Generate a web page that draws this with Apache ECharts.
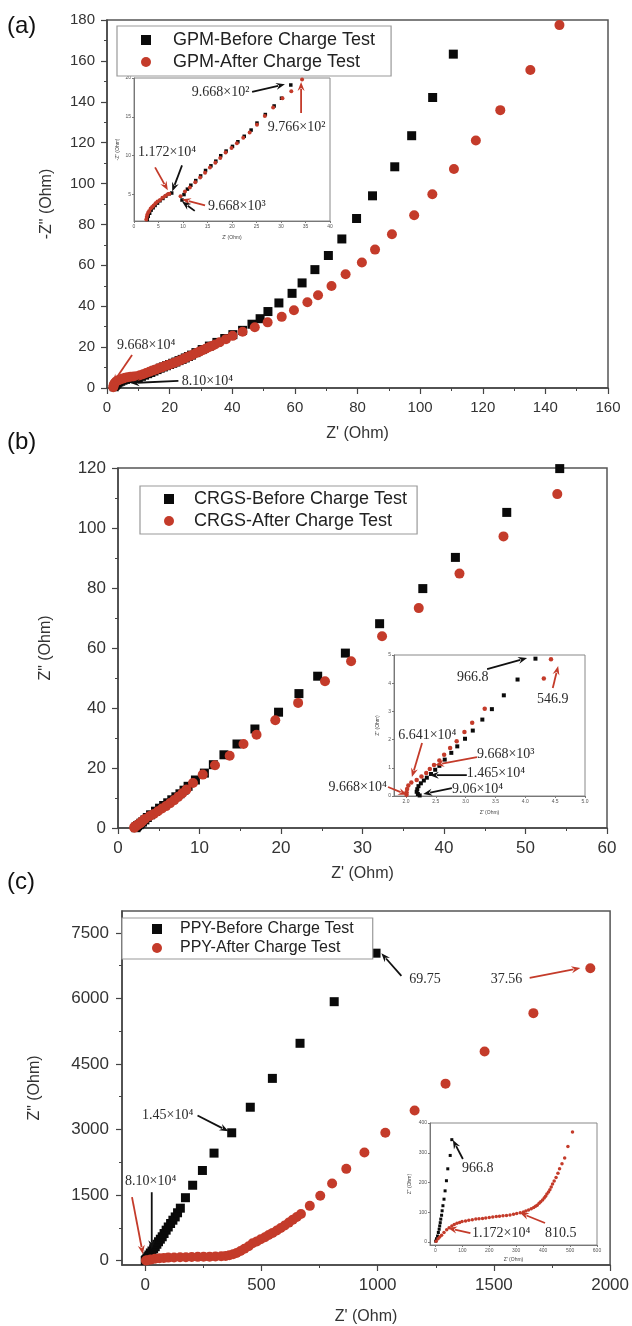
<!DOCTYPE html>
<html>
<head>
<meta charset="utf-8">
<script src="https://cdn.jsdelivr.net/npm/echarts@6/dist/echarts.min.js"></script>
<style>
  html, body { margin: 0; padding: 0; background: #fff; }
  #chart { width: 632px; height: 1326px; }
</style>
</head>
<body>
<div id="chart"></div>
<script>
// ---- (a) GPM ----
var gpmBefore = [[2.3,0.6],[2.6,1.2],[2.9,1.8],[3.3,2.4],[3.8,2.9],[4.4,3.3],[5.1,3.8],[5.9,4.2],[6.8,4.6],[7.7,4.9],[9.0,4.6],[10.0,5.1],[11.0,5.7],[12.0,6.3],[13.0,7.0],[14.0,7.6],[15.0,8.3],[16.0,9.0],[17.0,9.7],[18.0,10.3],[19.0,10.9],[20.0,11.5],[21.0,12.1],[22.0,12.7],[23.0,13.4],[24.0,14.0],[25.0,14.7],[26.0,15.4],[27.0,16.1],[28.4,17.3],[30.4,18.8],[32.7,20.5],[35.1,22.3],[37.6,24.2],[40.2,26.1],[43.3,28.2],[46.3,31.2],[48.9,33.9],[51.4,37.4],[54.9,41.6],[59.1,46.3],[62.3,51.4],[66.4,57.9],[70.7,64.8],[75.0,72.9],[79.7,82.9],[84.8,94.0],[91.9,108.2],[97.3,123.4],[104.0,142.1],[110.6,163.3]];
var gpmAfter = [[2.0,0.4],[2.1,1.2],[2.3,2.0],[2.6,2.7],[3.0,3.3],[3.6,3.8],[4.3,4.2],[5.0,4.6],[5.8,5.0],[6.6,5.3],[7.5,5.5],[8.5,5.6],[9.5,5.8],[10.5,6.2],[11.5,6.7],[12.5,7.3],[13.5,7.9],[14.5,8.5],[15.5,9.0],[16.5,9.6],[17.5,10.1],[18.5,10.7],[19.5,11.2],[20.5,11.8],[21.5,12.4],[22.5,13.0],[23.5,13.6],[24.5,14.3],[25.5,15.0],[26.5,15.7],[27.5,16.4],[28.5,17.1],[29.5,17.8],[30.5,18.5],[31.5,19.2],[32.5,19.9],[33.5,20.6],[34.5,21.3],[36.0,22.4],[38.0,23.9],[40.1,25.5],[43.3,27.5],[47.2,29.7],[51.3,32.1],[55.8,34.8],[59.7,38.0],[64.0,41.9],[67.4,45.4],[71.7,49.9],[76.2,55.6],[81.4,61.4],[85.6,67.7],[91.0,75.2],[98.1,84.5],[103.9,94.8],[110.8,107.1],[117.8,121.1],[125.6,135.9],[135.2,155.5],[144.5,177.5]];
var gpmBeforeZoom = [[2.7,1.8],[2.9,2.2],[3.2,2.6],[3.5,3.0],[3.9,3.3],[4.3,3.6],[4.8,3.9],[5.3,4.2],[5.9,4.5],[6.5,4.8],[7.2,5.1],[7.7,5.2],[9.8,4.3],[10.2,5.0],[10.9,5.7],[11.6,6.2],[12.6,6.8],[13.6,7.4],[14.6,8.1],[15.7,8.7],[16.7,9.3],[17.7,10.0],[18.8,10.6],[20.1,11.2],[21.2,11.8],[22.5,12.5],[23.9,13.3],[25.1,14.2],[26.8,15.3],[28.6,16.4],[30.1,17.4],[32.0,19.1]];
var gpmAfterZoom = [[2.5,1.8],[2.6,2.1],[2.7,2.4],[2.9,2.7],[3.1,2.9],[3.4,3.2],[3.7,3.4],[4.0,3.6],[4.4,3.9],[4.8,4.1],[5.3,4.3],[5.8,4.6],[6.3,4.8],[6.8,5.0],[7.2,5.1],[9.5,4.8],[10.4,5.4],[11.4,5.9],[12.5,6.6],[13.5,7.2],[14.5,7.8],[15.5,8.5],[16.6,9.1],[17.6,9.7],[18.7,10.4],[19.9,11.0],[21.0,11.6],[22.3,12.3],[23.6,13.0],[25.1,14.0],[26.7,15.1],[28.4,16.2],[30.3,17.4],[32.1,18.3],[34.3,19.8]];
var gpmZoomYTicks = [5, 10, 15, 20];

// ---- (b) CRGS ----
var crgsBefore = [[2.2,0.1],[2.2,0.3],[2.3,0.5],[2.4,0.8],[2.6,1.1],[2.8,1.6],[3.0,2.0],[3.3,2.7],[3.6,3.5],[4.0,4.4],[4.6,5.6],[5.1,6.6],[5.6,7.5],[6.1,8.4],[6.6,9.4],[7.1,10.4],[7.6,11.4],[8.1,12.6],[8.6,13.9],[9.5,16.0],[10.6,18.3],[11.7,21.1],[13.0,24.4],[14.6,28.0],[16.8,33.0],[19.7,38.6],[22.2,44.8],[24.5,50.6],[27.9,58.3],[32.1,68.1],[37.4,79.8],[41.4,90.2],[47.7,105.2],[54.2,119.8]];
var crgsAfter = [[2.0,0.1],[2.0,0.3],[2.1,0.5],[2.2,0.7],[2.4,1.0],[2.6,1.4],[2.8,1.8],[3.0,2.3],[3.3,3.0],[3.9,4.0],[4.4,4.7],[4.9,5.6],[5.4,6.5],[5.9,7.3],[6.4,8.3],[6.9,9.3],[7.4,10.4],[7.9,11.6],[8.4,12.8],[9.2,15.0],[10.4,17.8],[11.9,20.9],[13.7,24.1],[15.4,28.0],[17.0,31.1],[19.3,35.9],[22.1,41.7],[25.4,48.9],[28.6,55.6],[32.4,63.9],[36.9,73.3],[41.9,84.8],[47.3,97.2],[53.9,111.3]];
var crgsBeforeZoom = [[2.23,0.02],[2.20,0.07],[2.18,0.15],[2.19,0.24],[2.21,0.35],[2.25,0.45],[2.30,0.55],[2.35,0.65],[2.42,0.78],[2.49,0.93],[2.56,1.07],[2.65,1.29],[2.76,1.53],[2.86,1.76],[2.99,2.03],[3.12,2.32],[3.28,2.71],[3.44,3.08],[3.64,3.57],[3.87,4.13],[4.17,4.87]];
var crgsAfterZoom = [[2.01,0.04],[2.01,0.13],[2.02,0.25],[2.04,0.37],[2.09,0.48],[2.18,0.57],[2.26,0.69],[2.34,0.82],[2.40,0.96],[2.47,1.10],[2.56,1.26],[2.64,1.46],[2.74,1.70],[2.85,1.94],[2.98,2.27],[3.11,2.60],[3.32,3.09],[4.31,4.17],[4.43,4.85]];
var crgsZoomXTicks = [2.0, 2.5, 3.0, 3.5, 4.0, 4.5, 5.0];

// ---- (c) PPY ----
var ppyBefore = [[0,5],[3,25],[7,53],[11,90],[16,129],[22,175],[29,220],[36,270],[43,318],[50,375],[57,432],[65,490],[73,546],[81,620],[90,697],[99,770],[109,849],[119,925],[129,1000],[139,1095],[151,1200],[173,1440],[204,1725],[246,2063],[296,2460],[372,2925],[452,3510],[547,4170],[666,4973],[813,5925],[993,7035]];
var ppyAfter = [[3,3],[10,11],[23,23],[42,41],[61,54],[80,63],[99,69],[124,73],[150,77],[175,79],[200,82],[226,86],[251,88],[277,91],[302,96],[327,101],[346,108],[362,125],[378,145],[393,175],[410,220],[427,270],[445,330],[462,398],[480,440],[497,488],[515,535],[531,585],[548,635],[566,690],[583,745],[600,803],[618,870],[635,938],[652,1000],[670,1065],[708,1253],[753,1485],[804,1763],[865,2100],[943,2475],[1033,2925],[1159,3435],[1292,4050],[1460,4785],[1670,5663],[1915,6690]];
var ppyBeforeZoom = [[1,3],[4,11],[8,20],[11,32],[14,43],[16,54],[18,65],[20,77],[23,90],[25,105],[28,122],[32,144],[36,172],[41,206],[46,246],[55,291],[61,344]];
var ppyAfterZoom = [[3,3],[10,11],[16,17],[23,23],[32,32],[42,41],[51,48],[61,54],[70,59],[80,63],[90,66],[99,69],[112,71],[124,73],[137,75],[150,77],[162,78],[175,79],[187,81],[200,82],[213,84],[226,86],[238,87],[251,88],[264,89],[277,91],[290,93],[302,96],[315,98],[327,101],[336,104],[346,108],[356,112],[365,116],[372,120],[378,124],[385,130],[391,135],[398,141],[404,148],[409,154],[414,161],[420,168],[425,176],[430,185],[435,195],[441,205],[448,217],[455,231],[461,246],[470,263],[480,282],[492,321],[509,370]];
var ppyXTicks = [0, 500, 1000, 1500, 2000];
var ppyXMinor = [250, 750, 1250, 1750];
var ppyYTicks = [0, 1500, 3000, 4500, 6000, 7500];
var ppyYMinor = [750, 2250, 3750, 5250, 6750];
var ppyZoomXTicks = [0, 100, 200, 300, 400, 500, 600];
var ppyZoomYTicks = [0, 100, 200, 300, 400];

// annotations: [axis pair, text, coord, align]
var noteTexts = [
  [0, '9.668×10⁴', [3.2, 21.0], 'left'],
  [0, '8.10×10⁴', [23.9, 3.4], 'left'],
  [1, '9.668×10²', [11.8, 18.1], 'left'],
  [1, '9.766×10²', [27.3, 13.6], 'left'],
  [1, '1.172×10⁴', [0.8, 10.5], 'left'],
  [1, '9.668×10³', [15.1, 3.5], 'left'],
  [3, '966.8', [2.855, 4.22], 'left'],
  [3, '546.9', [4.195, 3.44], 'left'],
  [3, '6.641×10⁴', [1.87, 2.16], 'left'],
  [3, '9.668×10³', [3.19, 1.49], 'left'],
  [3, '1.465×10⁴', [3.02, 0.82], 'left'],
  [3, '9.06×10⁴', [2.77, 0.25], 'left'],
  [3, '9.668×10⁴', [1.68, 0.32], 'right'],
  [4, '69.75', [1136, 6448], 'left'],
  [4, '37.56', [1487, 6426], 'left'],
  [4, '1.45×10⁴', [-14, 3320], 'left'],
  [4, '8.10×10⁴', [-87, 1813], 'left'],
  [5, '966.8', [99, 249], 'left'],
  [5, '1.172×10⁴', [136, 30], 'left'],
  [5, '810.5', [407, 30], 'left']
];
// arrows: [axis pair, red?, from, to]
var noteArrows = [
  [0, true, [8.0, 16.1], [1.9, 2.4]],
  [0, false, [22.8, 3.5], [7.5, 2.4]],
  [1, false, [24.1, 18.2], [30.8, 19.2]],
  [1, true, [34.1, 15.5], [34.1, 19.5]],
  [1, true, [4.3, 8.5], [6.9, 5.55]],
  [1, false, [9.8, 8.75], [7.8, 5.4]],
  [1, true, [14.5, 3.6], [9.8, 4.4]],
  [1, false, [12.4, 2.9], [9.8, 4.1]],
  [3, false, [3.36, 4.50], [4.03, 4.89]],
  [3, true, [4.46, 3.83], [4.55, 4.61]],
  [3, true, [2.27, 1.88], [2.10, 0.67]],
  [3, true, [3.19, 1.38], [2.49, 1.10]],
  [3, false, [3.02, 0.74], [2.40, 0.74]],
  [3, false, [2.77, 0.28], [2.29, 0.07]],
  [3, true, [1.70, 0.32], [2.02, 0.04]],
  [4, false, [1102, 6516], [1016, 7033]],
  [4, true, [1654, 6471], [1872, 6696]],
  [4, false, [225, 3320], [358, 2960]],
  [4, false, [28, 1565], [28, 260]],
  [4, true, [-57, 1453], [-10, 148]],
  [5, false, [102, 279], [65, 343]],
  [5, true, [130, 30], [47, 47]],
  [5, true, [407, 64], [314, 98]]
];

var FONT = '"Liberation Sans", Arial, sans-serif';
var SERIF = '"Liberation Serif", "Times New Roman", serif';
var RED = '#c43b2a';
var BLACK = '#0a0a0a';

function plain (v) {
  return String(v)
}

function mainAxis (grid, min, max, interval, size, name, gap) {
  return {
    type: 'value', gridIndex: grid, min: min, max: max, interval: interval,
    name: name, nameLocation: 'middle', nameGap: gap,
    nameTextStyle: { color: '#333', fontSize: 16, fontFamily: FONT },
    axisLine: { show: true, onZero: false, lineStyle: { color: '#444', width: 1.5 } },
    axisTick: { show: true, length: 6, lineStyle: { color: '#444', width: 1.2 } },
    minorTick: { show: true, splitNumber: 2, length: 3, lineStyle: { color: '#444', width: 1 } },
    splitLine: { show: false },
    axisLabel: { color: '#333', fontSize: size, fontFamily: FONT, margin: 12, formatter: plain }
  }
}

function insetAxis (grid, min, max, ticks, name, gap, fmt) {
  return {
    type: 'value', gridIndex: grid, min: min, max: max,
    name: name, nameLocation: 'middle', nameGap: gap,
    nameTextStyle: { color: '#444', fontSize: 5, fontFamily: FONT },
    axisLine: { show: true, onZero: false, lineStyle: { color: '#777', width: 1 } },
    axisTick: { show: true, length: 2, customValues: ticks, lineStyle: { color: '#777' } },
    splitLine: { show: false },
    axisLabel: { color: '#555', fontSize: 5, fontFamily: FONT, margin: 3, customValues: ticks, formatter: fmt || plain }
  }
}

// extra tick-only axis for the short ticks of panel (c)
function minorAxis (grid, position, min, max, ticks) {
  return {
    type: 'value', gridIndex: grid, position: position, min: min, max: max,
    axisLine: { show: false, onZero: false },
    axisTick: { show: true, length: 3, customValues: ticks, lineStyle: { color: '#444' } },
    axisLabel: { show: false },
    splitLine: { show: false }
  }
}

function dots (name, data, ax, shape, size, color) {
  return {
    name: name, type: 'scatter', xAxisIndex: ax, yAxisIndex: ax,
    symbol: shape, symbolSize: size, data: data,
    itemStyle: { color: color, opacity: 1 }, emphasis: { disabled: true }
  }
}

function legendBox (left, top, names, size, gap, padding, textPad) {
  return {
    left: left, top: top, orient: 'vertical', data: names, selectedMode: false,
    itemWidth: 10, itemHeight: 10, itemGap: gap, padding: padding,
    borderColor: '#999', borderWidth: 1.2, backgroundColor: '#fff',
    textStyle: { fontSize: size, color: '#222', fontFamily: FONT, padding: [0, 0, 0, textPad] }
  }
}

var myChart = echarts.init(document.getElementById('chart'))

var option = {
  animation: false,
  backgroundColor: '#fff',
  grid: [
    { left: 107, top: 20, width: 501, height: 368, show: true, borderColor: '#555', borderWidth: 1.5 },
    { left: 134, top: 78, width: 196, height: 143, show: true, borderColor: '#888', borderWidth: 1, backgroundColor: '#fff' },
    { left: 118, top: 468, width: 489, height: 360, show: true, borderColor: '#555', borderWidth: 1.5 },
    { left: 394, top: 655, width: 191, height: 141, show: true, borderColor: '#888', borderWidth: 1, backgroundColor: '#fff' },
    { left: 122, top: 911, width: 491, height: 360, show: true, borderColor: '#555', borderWidth: 1.5 },
    { left: 430, top: 1123, width: 167, height: 122, show: true, borderColor: '#888', borderWidth: 1, backgroundColor: '#fff' }
  ],
  xAxis: [
    mainAxis(0, 0, 160, 20, 15, "Z' (Ohm)", 38),
    insetAxis(1, 0, 40, [0, 5, 10, 15, 20, 25, 30, 35, 40], "Z' (Ohm)", 14),
    mainAxis(2, 0, 60, 10, 17, "Z' (Ohm)", 38),
    insetAxis(3, 1.8, 5, crgsZoomXTicks, "Z' (Ohm)", 14, function (v) { return v.toFixed(1) }),
    Object.assign(mainAxis(4, -100, 2000, null, 17, "Z' (Ohm)", 44), {
      position: 'bottom',
      axisTick: { show: true, length: 6, customValues: ppyXTicks, lineStyle: { color: '#444', width: 1.2 } },
      minorTick: { show: false },
      axisLabel: { color: '#333', fontSize: 17, fontFamily: FONT, margin: 12, customValues: ppyXTicks, formatter: plain }
    }),
    insetAxis(5, -20, 600, ppyZoomXTicks, "Z' (Ohm)", 12),
    minorAxis(4, 'bottom', -100, 2000, ppyXMinor)
  ],
  yAxis: [
    mainAxis(0, 0, 180, 20, 15, '-Z" (Ohm)', 52),
    insetAxis(1, 1.6, 20, gpmZoomYTicks, '-Z" (Ohm)', 14),
    mainAxis(2, 0, 120, 20, 17, 'Z" (Ohm)', 64),
    insetAxis(3, 0, 5, [0, 1, 2, 3, 4, 5], 'Z" (Ohm)', 14),
    Object.assign(mainAxis(4, -100, 8000, null, 17, 'Z" (Ohm)', 79), {
      position: 'left',
      axisTick: { show: true, length: 6, customValues: ppyYTicks, lineStyle: { color: '#444', width: 1.2 } },
      minorTick: { show: false },
      axisLabel: { color: '#333', fontSize: 17, fontFamily: FONT, margin: 13, customValues: ppyYTicks, formatter: plain }
    }),
    insetAxis(5, -10, 400, ppyZoomYTicks, 'Z" (Ohm)', 18),
    minorAxis(4, 'left', -100, 8000, ppyYMinor)
  ],
  legend: [
    legendBox(117, 26, ['GPM-Before Charge Test', 'GPM-After Charge Test'], 18, 4, [5, 16, 5, 24], 17),
    legendBox(140, 486, ['CRGS-Before Charge Test', 'CRGS-After Charge Test'], 18, 4, [4, 10, 4, 24], 15),
    legendBox(122, 918, ['PPY-Before Charge Test', 'PPY-After Charge Test'], 16, 3, [3, 19, 3, 30], 13)
  ],
  series: [
    dots('GPM-Before Charge Test', gpmBefore, 0, 'rect', 9, BLACK),
    dots('GPM-After Charge Test', gpmAfter, 0, 'circle', 10, RED),
    dots('GPM-Before Charge Test', gpmBeforeZoom, 1, 'rect', 3.5, BLACK),
    dots('GPM-After Charge Test', gpmAfterZoom, 1, 'circle', 4, RED),
    dots('CRGS-Before Charge Test', crgsBefore, 2, 'rect', 9, BLACK),
    dots('CRGS-After Charge Test', crgsAfter, 2, 'circle', 10, RED),
    dots('CRGS-Before Charge Test', crgsBeforeZoom, 3, 'rect', 4, BLACK),
    dots('CRGS-After Charge Test', crgsAfterZoom, 3, 'circle', 4.5, RED),
    dots('PPY-Before Charge Test', ppyBefore, 4, 'rect', 9, BLACK),
    dots('PPY-After Charge Test', ppyAfter, 4, 'circle', 10, RED),
    dots('PPY-Before Charge Test', ppyBeforeZoom, 5, 'rect', 3, BLACK),
    dots('PPY-After Charge Test', ppyAfterZoom, 5, 'circle', 3.5, RED)
  ]
}
myChart.setOption(option)

// panel letters + annotations placed through the axes
function toPx (ax, c) {
  return myChart.convertToPixel({ xAxisIndex: ax, yAxisIndex: ax }, c)
}
var graphic = []
var panels = [['(a)', 14], ['(b)', 430], ['(c)', 870]]
panels.forEach(function (p) {
  graphic.push({ type: 'text', left: 7, top: p[1], style: { text: p[0], font: '24px ' + FONT, fill: '#111' } })
})
noteTexts.forEach(function (n) {
  var p = toPx(n[0], n[2])
  graphic.push({
    type: 'text', x: p[0], y: p[1], z: 100,
    style: { text: n[1], font: '14px ' + SERIF, fill: '#2a2a2a', textAlign: n[3], textVerticalAlign: 'middle', align: n[3], verticalAlign: 'middle' }
  })
})
noteArrows.forEach(function (a) {
  var p1 = toPx(a[0], a[2])
  var p2 = toPx(a[0], a[3])
  var color = a[1] ? RED : '#111'
  var dx = p2[0] - p1[0]
  var dy = p2[1] - p1[1]
  var len = Math.sqrt(dx * dx + dy * dy)
  var ux = dx / len
  var uy = dy / len
  var hl = 9
  var hw = 3.5
  var bx = p2[0] - ux * hl
  var by = p2[1] - uy * hl
  graphic.push({ type: 'line', z: 100, shape: { x1: p1[0], y1: p1[1], x2: bx + ux * 2, y2: by + uy * 2 }, style: { stroke: color, lineWidth: 1.8 } })
  graphic.push({ type: 'polygon', z: 100, shape: { points: [[p2[0], p2[1]], [bx - uy * hw, by + ux * hw], [bx + ux * 3, by + uy * 3], [bx + uy * hw, by - ux * hw]] }, style: { fill: color } })
})
myChart.setOption({ graphic: graphic })

window.addEventListener('resize', function () {
  myChart.resize()
})
</script>
</body>
</html>
